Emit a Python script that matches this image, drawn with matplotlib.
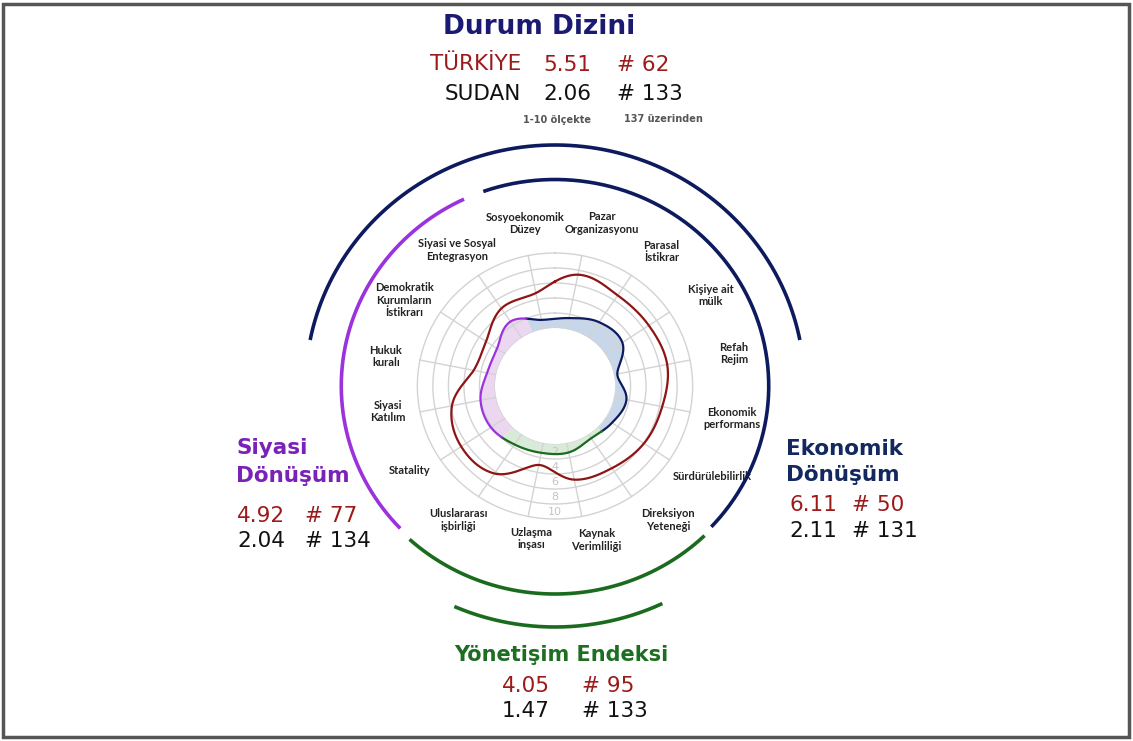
import numpy as np
import matplotlib.pyplot as plt
from matplotlib.patches import Rectangle

W, H = 1133, 741

# 16 BTI criteria, clockwise from top (economic -> governance -> political)
criteria = [
    "Sosyoekonomik\nDüzey", "Pazar\nOrganizasyonu", "Parasal\nİstikrar",
    "Kişiye ait\nmülk", "Refah\nRejim", "Ekonomik\nperformans",
    "Sürdürülebilirlik", "Direksiyon\nYeteneği", "Kaynak\nVerimliliği",
    "Uzlaşma\ninşası", "Uluslararası\nişbirliği", "Statality",
    "Siyasi\nKatılım", "Hukuk\nkuralı", "Demokratik\nKurumların\nİstikrarı",
    "Siyasi ve Sosyal\nEntegrasyon",
]
turkiye = [4.9, 7.4, 6.8, 6.8, 7.0, 6.35, 6.05, 5.45, 5.0, 3.0, 6.3, 6.8, 5.8, 2.95, 2.95, 4.7]
sudan = [1.25, 1.5, 2.5, 2.7, 0.45, 1.65, 1.1, 0.65, 1.3, 1.35, 1.65, 2.2, 2.05, 1.2, 1.25, 2.6]
ring_ticks = [2, 4, 6, 8, 10]

# index scores: [score, rank]
status_tr, status_sd = ["5.51", "# 62"], ["2.06", "# 133"]
eco_tr, eco_sd = ["6.11", "# 50"], ["2.11", "# 131"]
pol_tr, pol_sd = ["4.92", "# 77"], ["2.04", "# 134"]
gov_tr, gov_sd = ["4.05", "# 95"], ["1.47", "# 133"]

# layout: label positions (deg, r) around the web
label_pos = [(350, 14.3), (15.4, 14.8), (37.4, 14.8), (58.9, 15.7), (79.3, 15.75),
             (100.7, 15.5), (120.8, 15.9), (140.9, 15.3), (165.4, 13.5), (188.4, 12.8),
             (214.8, 14.0), (239.2, 14.15), (261, 14.1), (280.2, 14.4), (300.5, 14.8),
             (325.2, 14.35)]

RED = "#9b1a1a"
BLK = "#111111"
NAVY = "#0d1b5e"
PURP = "#9a33dd"
GRN = "#1b6b1f"

N = len(criteria)
START = np.deg2rad(-11.25)
STEP = 2 * np.pi / N


def spline(vals, th):
    # closed Catmull-Rom curve r(theta) through the criterion values
    v = np.asarray(vals, float)
    u = np.mod(th - START, 2 * np.pi) / STEP
    i = np.floor(u).astype(int) % N
    t = u - np.floor(u)
    p0, p1, p2, p3 = v[(i - 1) % N], v[i], v[(i + 1) % N], v[(i + 2) % N]
    return 0.5 * (2 * p1 + (-p0 + p2) * t + (2 * p0 - 5 * p1 + 4 * p2 - p3) * t ** 2
                  + (-p0 + 3 * p1 - 3 * p2 + p3) * t ** 3)


fig = plt.figure(figsize=(W / 100, H / 100), dpi=100)
fig.patch.set_facecolor("white")

# polar axes, slightly wider than tall like the original
cx, cy, pxu, sx = 555, 386, 7.5, 1.035
R0 = 58 / pxu
RMAX = 26
hh = (RMAX + R0) * pxu
hw = hh * sx
ax = fig.add_axes([(cx - hw) / W, (H - cy - hh) / H, 2 * hw / W, 2 * hh / H], projection="polar")
ax.set_aspect("auto")
ax.set_theta_zero_location("N")
ax.set_theta_direction(-1)
ax.set_ylim(0, RMAX)
ax.set_rorigin(-R0)
ax.set_axis_off()

full = np.linspace(0, 2 * np.pi, 721)

# dimension sectors (deg): fill colour, line colour
sectors = [(-22.5, 135, "#c7d6e8", NAVY), (135, 225, "#d8ebd8", GRN), (225, 337.5, "#ecd7f1", PURP)]
for a, b, fc, lc in sectors:
    th = np.deg2rad(np.linspace(a, b, 200))
    rs = spline(sudan, th)
    ax.fill_between(th, 0, rs, color=fc, lw=0, zorder=1)

# grid
for v in [0] + ring_ticks:
    ax.plot(full, np.full_like(full, v), color="#d3d3d3", lw=1.0, zorder=2)
for k in range(N):
    a = START + k * STEP
    ax.plot([a, a], [0, 10], color="#d3d3d3", lw=1.0, zorder=2)
for v in ring_ticks:
    ax.text(np.pi, v - 0.9, str(v), color="#c4c4c4", fontsize=8, ha="center", va="center", zorder=2)

# Sudan line, coloured by dimension
for a, b, fc, lc in sectors:
    th = np.deg2rad(np.linspace(a, b, 200))
    ax.plot(th, spline(sudan, th), color=lc, lw=1.6, zorder=4)

# Türkiye line
ax.plot(full, spline(turkiye, full), color="#8e1515", lw=1.6, zorder=4)

# criterion labels
for lab, (ang, r) in zip(criteria, label_pos):
    ax.text(np.deg2rad(ang), r, lab, ha="center", va="center", fontsize=8.0,
            family=["Lato", "DejaVu Sans"], fontweight="bold",
            color="#222222", linespacing=1.15)


def arc(a, b, r, c):
    th = np.deg2rad(np.linspace(a, b, 300))
    ax.plot(th, np.full_like(th, r), color=c, lw=2.6, solid_capstyle="butt", zorder=3)


arc(-79, 79, 24.4, NAVY)
arc(-19.6, 133, 19.8, NAVY)
arc(226.4, 334.8, 19.8, PURP)
arc(136, 222.5, 20.0, GRN)
arc(154.5, 203.8, 24.4, GRN)


def put(x, y, s, **kw):
    fig.text(x / W, 1 - y / H, s, va="center", **kw)


# status index block
put(539, 27, "Durum Dizini", ha="center", fontsize=19, fontweight="bold", color="#1a1a72")
put(521, 64, "TÜRKİYE", ha="right", fontsize=15.5, color=RED)
put(543, 65, status_tr[0], ha="left", fontsize=15.5, color=RED)
put(617, 65, status_tr[1], ha="left", fontsize=15.5, color=RED)
put(521, 94, "SUDAN", ha="right", fontsize=15.5, color=BLK)
put(543, 94, status_sd[0], ha="left", fontsize=15.5, color=BLK)
put(617, 94, status_sd[1], ha="left", fontsize=15.5, color=BLK)
put(557, 120, "1-10 ölçekte", ha="center", fontsize=7, fontweight="bold", color="#555555")
put(663, 119, "137 üzerinden", ha="center", fontsize=7, fontweight="bold", color="#555555")

# political
put(236, 448, "Siyasi", ha="left", fontsize=15.5, fontweight="bold", color="#7a22b8")
put(236, 476, "Dönüşüm", ha="left", fontsize=15.5, fontweight="bold", color="#7a22b8")
put(237, 516, pol_tr[0], ha="left", fontsize=15.5, color=RED)
put(305, 516, pol_tr[1], ha="left", fontsize=15.5, color=RED)
put(237, 541, pol_sd[0], ha="left", fontsize=15.5, color=BLK)
put(305, 541, pol_sd[1], ha="left", fontsize=15.5, color=BLK)

# economic
put(786, 449, "Ekonomik", ha="left", fontsize=15.5, fontweight="bold", color="#12285e")
put(786, 475, "Dönüşüm", ha="left", fontsize=15.5, fontweight="bold", color="#12285e")
put(789, 505, eco_tr[0], ha="left", fontsize=15.5, color=RED)
put(852, 505, eco_tr[1], ha="left", fontsize=15.5, color=RED)
put(789, 531, eco_sd[0], ha="left", fontsize=15.5, color=BLK)
put(852, 531, eco_sd[1], ha="left", fontsize=15.5, color=BLK)

# governance
put(561, 655, "Yönetişim Endeksi", ha="center", fontsize=15, fontweight="bold", color="#1e6e22")
put(502, 686, gov_tr[0], ha="left", fontsize=15.5, color=RED)
put(582, 686, gov_tr[1], ha="left", fontsize=15.5, color=RED)
put(502, 711, gov_sd[0], ha="left", fontsize=15.5, color=BLK)
put(582, 711, gov_sd[1], ha="left", fontsize=15.5, color=BLK)

# frame
fig.patches.append(Rectangle((3 / W, 4 / H), 1126 / W, 733 / H, transform=fig.transFigure,
                             fill=False, ec="#555555", lw=2.5))

fig.savefig("out.png", dpi=100)
